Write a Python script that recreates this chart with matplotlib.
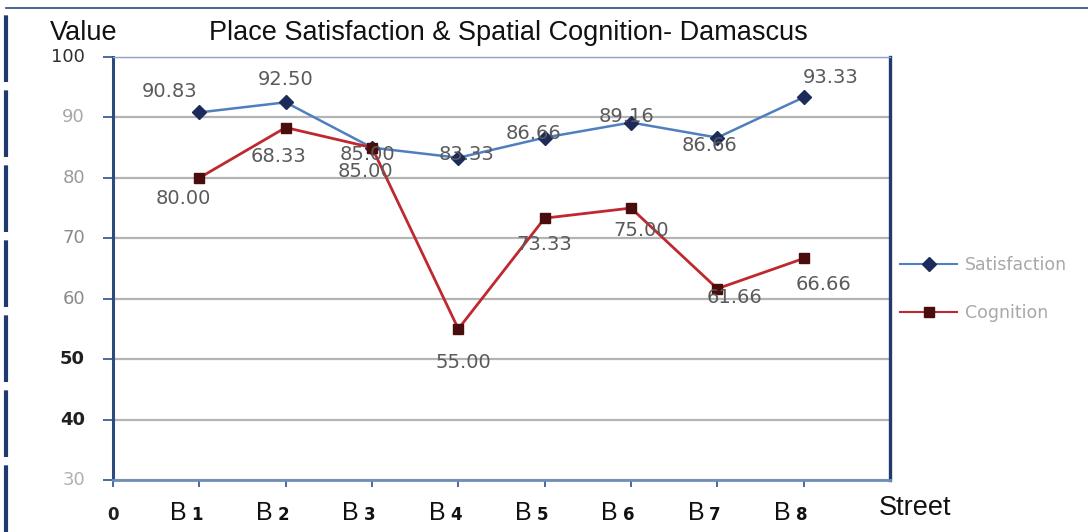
import matplotlib
matplotlib.use('Agg')
import matplotlib.pyplot as plt
from matplotlib.lines import Line2D
from matplotlib.transforms import offset_copy

# Data
streets = ['B1', 'B2', 'B3', 'B4', 'B5', 'B6', 'B7', 'B8']
satisfaction = [90.83, 92.50, 85.00, 83.33, 86.66, 89.16, 86.66, 93.33]
cognition = [80.00, 88.33, 85.00, 55.00, 73.33, 75.00, 61.66, 66.66]
# labels as printed on the chart
sat_labels = ['90.83', '92.50', '85.00', '83.33', '86.66', '89.16', '86.66', '93.33']
cog_labels = ['80.00', '68.33', '85.00', '55.00', '73.33', '75.00', '61.66', '66.66']
y_ticks = [30, 40, 50, 60, 70, 80, 90, 100]

# label offsets in pixels (dx, dy)
sat_offsets = [(-30, 21), (0, 23), (-5, -7), (8, 3), (-11, 4), (-4, 6), (-8, -8), (27, 20)]
cog_offsets = [(-16, -21), (-7, -29), (-7, -24), (5, -34), (0, -26), (10, -22), (17, -9), (20, -26)]

fig = plt.figure(figsize=(10.88, 5.32), dpi=100)
ax = fig.add_axes([113 / 1088, 52 / 532, 777 / 1088, 423 / 532])

x = list(range(1, len(streets) + 1))
ax.plot(x, satisfaction, color='#4f7fbf', lw=1.8, marker='D', ms=7,
        mfc='#1c2b5a', mec='#1c2b5a', zorder=3)
ax.plot(x, cognition, color='#c0282f', lw=2.0, marker='s', ms=7,
        mfc='#4a0d0d', mec='#4a0d0d', zorder=3)

for xi, yi, lab, (dx, dy) in zip(x, satisfaction, sat_labels, sat_offsets):
    ax.annotate(lab, (xi, yi), xytext=(dx * 0.72, dy * 0.72), textcoords='offset points',
                ha='center', va='center', fontsize=14, family='DejaVu Sans',
                color='#5a5a5a', zorder=4)
for xi, yi, lab, (dx, dy) in zip(x, cognition, cog_labels, cog_offsets):
    ax.annotate(lab, (xi, yi), xytext=(dx * 0.72, dy * 0.72), textcoords='offset points',
                ha='center', va='center', fontsize=14, family='DejaVu Sans',
                color='#5a5a5a', zorder=4)

ax.set_xlim(0, 9)
ax.set_ylim(30, 100)
ax.set_yticks(y_ticks)
ax.set_yticklabels([])
ax.set_xticks(range(0, 9))
ax.set_xticklabels([])
ax.tick_params(axis='y', direction='out', length=7, color='#2f4f8f', width=1.2)
ax.tick_params(axis='x', direction='out', length=5, color='#2f4f8f', width=1.2)

ax.grid(axis='y', color='#b4b4b4', lw=1.6, zorder=1)
ax.spines['left'].set_color('#2a4a80')
ax.spines['left'].set_linewidth(2.2)
ax.spines['right'].set_color('#1f3a70')
ax.spines['right'].set_linewidth(2.4)
ax.spines['bottom'].set_color('#6f8fb8')
ax.spines['bottom'].set_linewidth(2.0)
ax.spines['top'].set_color('#8fa6c6')
ax.spines['top'].set_linewidth(1.0)

# y tick labels with mixed styling as in the picture
ylab_style = {30: ('#b0b0b0', 'normal'), 40: ('#202020', 'bold'), 50: ('#202020', 'bold'),
              60: ('#8a8a8a', 'normal'), 70: ('#8a8a8a', 'normal'), 80: ('#9a9a9a', 'normal'),
              90: ('#a8a8a8', 'normal'), 100: ('#303030', 'normal')}
ytrans = offset_copy(ax.get_yaxis_transform(), fig=fig, x=-28, y=0, units='dots')
for v in y_ticks:
    c, w = ylab_style[v]
    ax.text(0, v, str(v), transform=ytrans, ha='right', va='center',
            fontsize=13, family='DejaVu Sans', color=c, fontweight=w)

# x tick labels: large "B" with small bold digit
xtrans = ax.get_xaxis_transform()
ax.text(0, -0.094, '0', transform=xtrans, ha='center', va='baseline',
        fontsize=12, fontweight='bold', family='DejaVu Sans', color='#202020')
btrans = offset_copy(xtrans, fig=fig, x=-13, y=0, units='dots')
dtrans = offset_copy(xtrans, fig=fig, x=-8, y=0, units='dots')
for xi, s in zip(x, streets):
    ax.text(xi, -0.094, s[0], transform=btrans, ha='right', va='baseline',
            fontsize=18, family='Liberation Sans', color='#111111')
    ax.text(xi, -0.094, s[1:], transform=dtrans, ha='left', va='baseline',
            fontsize=12, fontweight='bold', family='DejaVu Sans', color='#111111')

fig.text(84 / 1088, 1 - 33 / 532, 'Value', ha='center', va='center',
         fontsize=19.5, family='Liberation Sans', color='#111111')
fig.text(508 / 1088, 1 - 33 / 532, 'Place Satisfaction & Spatial Cognition- Damascus',
         ha='center', va='center', fontsize=19.5, family='Liberation Sans', color='#111111')
fig.text(915 / 1088, 1 - 508 / 532, 'Street', ha='center', va='center',
         fontsize=19.5, family='Liberation Sans', color='#111111')

# legend outside on the right
handles = [Line2D([], [], color='#4f7fbf', lw=1.5, marker='D', ms=7,
                  mfc='#1c2b5a', mec='#1c2b5a'),
           Line2D([], [], color='#c0282f', lw=1.5, marker='s', ms=7,
                  mfc='#4a0d0d', mec='#4a0d0d')]
leg = fig.legend(handles, ['Satisfaction', 'Cognition'], loc='center left',
                 bbox_to_anchor=(893 / 1088, 1 - 289 / 532), frameon=False,
                 prop={'family': 'DejaVu Sans', 'size': 12.5},
                 labelspacing=1.75, handlelength=3.3, handletextpad=0.45,
                 borderaxespad=0)
for t in leg.get_texts():
    t.set_color('#a8a8a8')

# outer border of the original picture
fig.add_artist(Line2D([6 / 1088, 6 / 1088], [0, 1 - 8 / 532], transform=fig.transFigure,
                      color='#1f3a70', lw=3, ls=(0, (16, 2))))
fig.add_artist(Line2D([6 / 1088, 1], [1 - 8 / 532, 1 - 8 / 532], transform=fig.transFigure,
                      color='#2a4a80', lw=1.2))

fig.savefig('out.png', dpi=100)
